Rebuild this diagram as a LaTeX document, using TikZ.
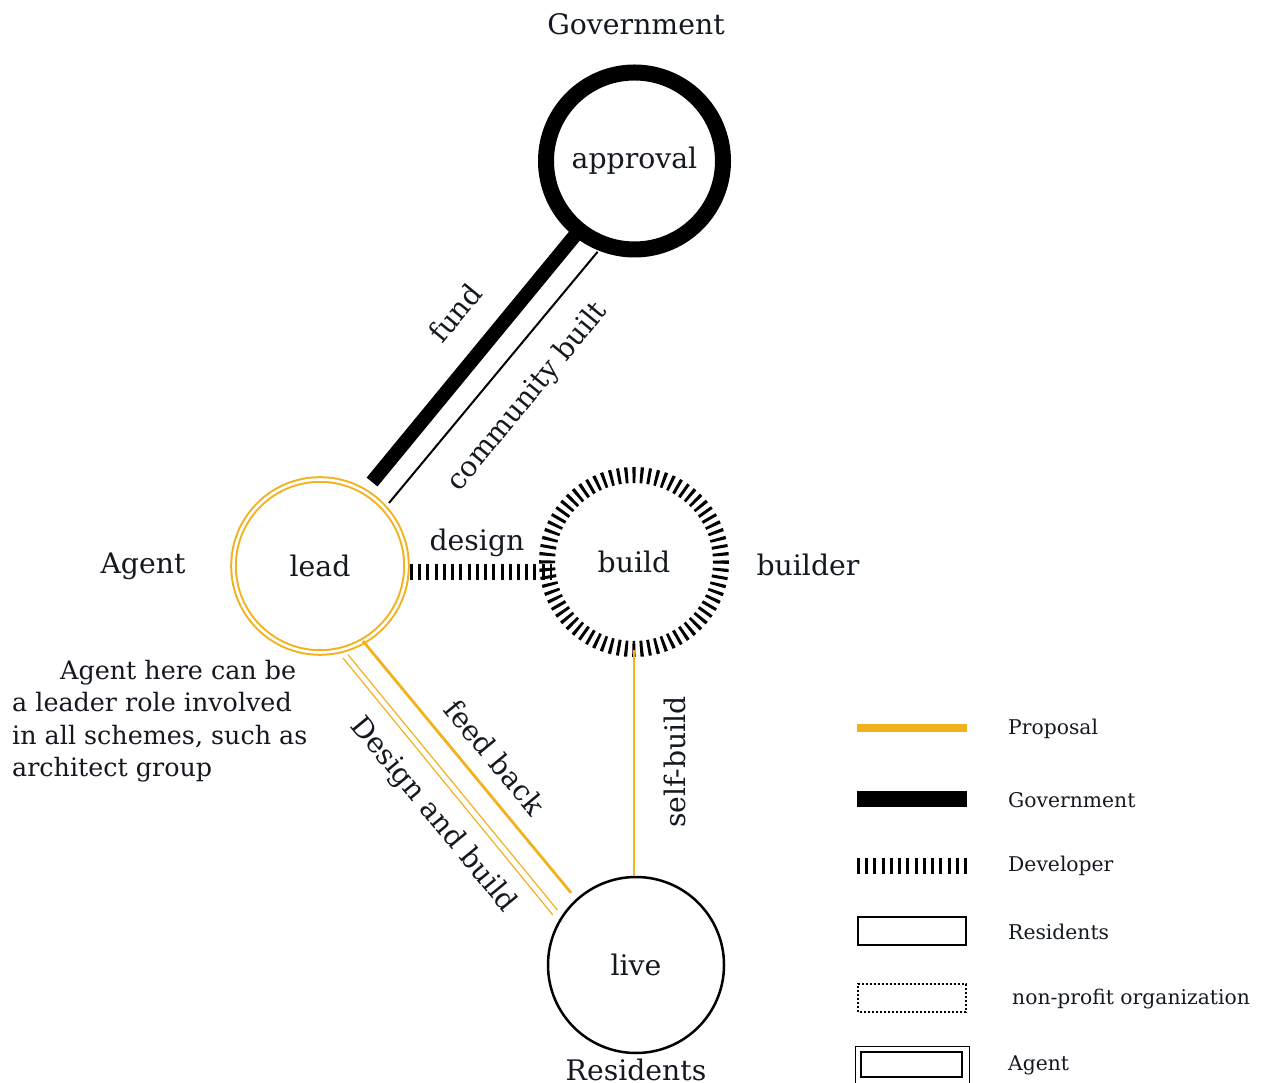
\documentclass[tikz,border=0pt]{standalone}
\usepackage{fontspec}
\setmainfont{DejaVu Serif}
\usetikzlibrary{calc}
\definecolor{prop}{RGB}{242,178,30}
\definecolor{ink}{RGB}{20,24,32}
\tikzset{
  lbl/.style={font=\fontsize{28.3}{32}\selectfont, inner sep=0pt, text=ink},
  leg/.style={font=\fontsize{20.3}{24}\selectfont, inner sep=0pt, anchor=west, text=ink},
  ring/.style={circle, inner sep=0pt, minimum size=173pt, font=\fontsize{28.3}{32}\selectfont, text=ink},
  devline/.style={line width=16pt, dash pattern=on 3pt off 5.23pt},
  propline/.style={draw=prop, line width=2.8pt},
}
\begin{document}
\begin{tikzpicture}[x=1pt,y=1pt]
\useasboundingbox (0,0) rectangle (1268,1082);
% nodes
\node[ring, minimum size=177pt, draw=black, line width=16pt] (approval) at (634.5,921) {approval};
\node[ring, draw=prop, double=white, double distance=2.6pt, line width=2pt] (lead) at (320,516) {lead};
\node[ring, minimum size=174pt, draw=black, line width=16pt, dash pattern=on 3pt off 4.59pt, dash phase=1.5pt] (build) at (634,520) {build};
\node[ring, minimum size=176pt, draw=black, line width=2.5pt] (live) at (636,117) {live};
% connectors
\draw[line width=14pt] ($(approval)+(231.4:90)$) -- ($(lead)+(58.2:98.8)$);
\draw[line width=2pt] ($(approval)+(247.9:98)$) -- ($(lead)+(42.4:93.4)$);
\draw[devline] ($(lead)+(90,-6)$) -- ($(build)+(-82,-10)$);
\draw[propline] ($(build)+(0,-88)$) -- ($(live)+(-2,89)$);
\draw[propline] ($(lead)+(-60.2:86.5)$) -- ($(live)+(132:97)$);
\draw[draw=prop, line width=1.2pt] ($(lead)+(-76:94.8)$) -- ($(live)+(149:97)$);
\draw[draw=prop, line width=1.2pt] ($(lead)+(-72.5:93)$) -- ($(live)+(145:96)$);
% labels
\node[lbl] (tgov) at (636,1058) {Government};
\node[lbl, rotate=50.6] (tfund) at (455,769) {fund};
\node[lbl, rotate=50.6] (tcomm) at (528,685) {community built};
\node[lbl] (tdesign) at (477,539) {design};
\node[lbl] (tagent) at (143,516) {Agent};
\node[lbl] (tbuilder) at (808,517) {builder};
\node[lbl, rotate=90] (tself) at (675,320) {self-build};
\node[lbl, rotate=-50.5] (tfeed) at (495,325) {feed back};
\node[lbl, rotate=-50.5] (tdab) at (433,267) {Design and build};
\node[lbl] (tres) at (636,12) {Residents};
\node[anchor=west, align=left, inner sep=0pt, text=ink, font=\fontsize{25.4}{32.4}\selectfont] (note) at (12,361)
  {\hspace*{48pt}Agent here can be\\a leader role involved\\in all schemes, such as\\architect group};
% legend
\draw[draw=prop, line width=8pt] (857,354) -- (967,354);
\draw[line width=16pt] (857,283) -- (967,283);
\draw[devline] (857,216) -- (967,216);
\draw[line width=2.5pt] (858,137) rectangle (966,165);
\draw[line width=2pt, dotted] (858,70) rectangle (966,98);
\draw[line width=1pt] (855,-8) rectangle (969,36);
\draw[line width=2pt] (861,5) rectangle (962,30);
\node[leg] (lprop) at (1008,353) {Proposal};
\node[leg] (lgov) at (1008,282) {Government};
\node[leg] (ldev) at (1008,216) {Developer};
\node[leg] (lres) at (1008,150) {Residents};
\node[leg] (lnon) at (1012,83) {non-profit organization};
\node[leg] (lag) at (1008,17) {Agent};
\end{tikzpicture}
\end{document}
